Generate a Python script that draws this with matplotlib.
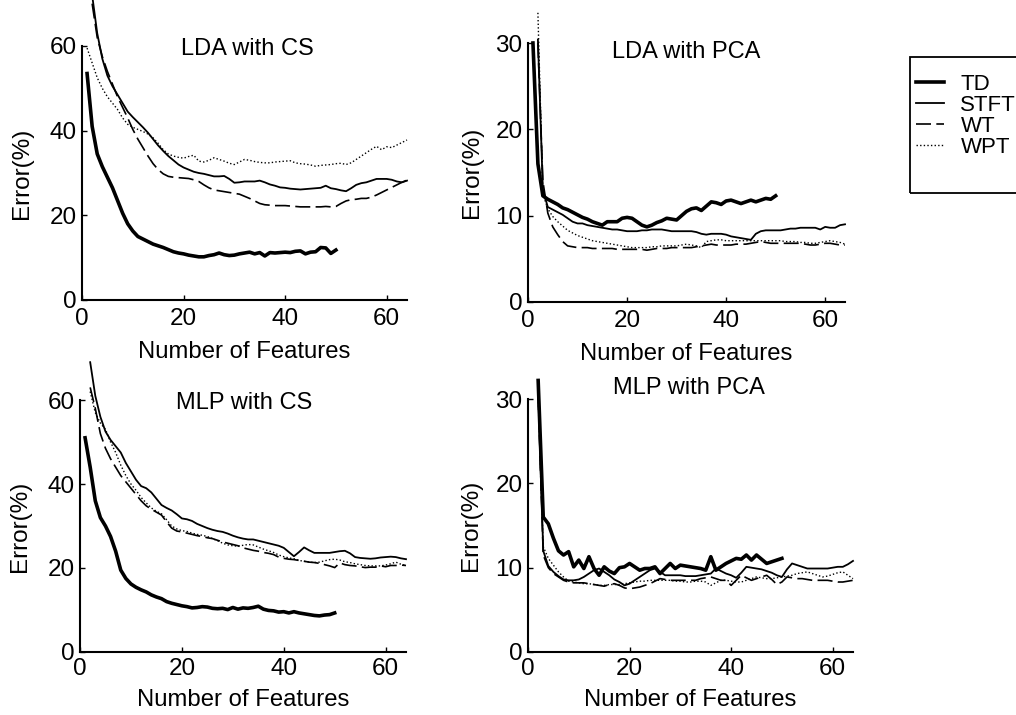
import numpy as np
import matplotlib
matplotlib.use("Agg")
import matplotlib.pyplot as plt
from matplotlib.patches import Rectangle

nan = np.nan

# ---------------- data (Error %, feature counts start at 1) ----------------
series_names = ["TD", "STFT", "WT", "WPT"]
x_ticks = [0, 20, 40, 60]

lda_cs_td = [53.5, 41, 34.5, 31.5, 29, 26.5, 23.5, 20.5, 18.0, 16.3, 15.0, 14.4, 13.8, 13.2, 12.8,
             12.4, 11.9, 11.4, 11.1, 10.9, 10.6, 10.4, 10.2, 10.2, 10.5, 10.7, 11.1, 10.7, 10.5, 10.6,
             10.9, 11.1, 11.3, 10.9, 11.2, 10.4, 11.2, 11.1, 11.2, 11.3, 11.2, 11.5, 11.6, 10.9, 11.3,
             11.4, 12.4, 12.3, 11.0, 11.8]
lda_cs_stft = [nan, 72, 63, 57, 53, 50.5, 48.5, 46.5, 44.5, 43.2, 42, 40.8, 39.5, 38, 36.5, 35.2,
               34, 33, 32, 31.3, 30.8, 30.3, 30, 29.8, 29.5, 29.2, 29.2, 29.3, 28.6, 27.7, 27.8, 28,
               28, 28, 28.2, 27.8, 27.3, 27, 26.6, 26.5, 26.3, 26.2, 26.1, 26.2, 26.3, 26.4, 26.5,
               27, 26.4, 26.2, 25.9, 25.7, 26.4, 27.2, 27.6, 27.8, 28.2, 28.6, 28.6, 28.6, 28.4, 28,
               27.8, 28.2]
lda_cs_wt = [nan, 70, 62, 57.5, 54, 51, 48, 45.5, 43, 40.3, 38, 36, 34, 32.2, 30.8, 29.8, 29.2, 29,
             28.9, 28.8, 28.7, 28.4, 28, 27.2, 26.5, 26, 25.8, 25.6, 25.4, 25.2, 25, 24.5, 24, 23.4,
             22.8, 22.5, 22.4, 22.3, 22.3, 22.3, 22.2, 22.1, 22, 22, 22, 22, 22, 22.1, 22, 22.1, 22.8,
             23.4, 23.7, 23.8, 24, 24, 24.3, 24.8, 25.4, 26, 26.6, 27.2, 27.8, 28.3]
lda_cs_wpt = [59.5, 56, 52.5, 50, 48, 46.5, 45, 43, 41.5, 40.8, 40.3, 39.8, 39.2, 38.3, 37, 35.5,
              34.5, 34, 33.7, 33.5, 33.9, 34.2, 32.8, 32.6, 33, 33.6, 33.2, 32.8, 32.3, 32, 32.6,
              33.2, 33, 32.7, 32.5, 32.4, 32.4, 32.6, 32.7, 32.8, 32.9, 32.4, 32.2, 32.1, 31.9, 31.6,
              31.8, 31.9, 32, 32.2, 32.3, 32, 32.4, 33.2, 34, 34.8, 35.6, 36.3, 35.5, 36.2, 36, 36.6,
              37.2, 37.8]

lda_pca_td = [30.0, 16.0, 12.3, 11.9, 11.6, 11.3, 10.9, 10.7, 10.4, 10.1, 9.8, 9.6, 9.3, 9.1, 8.9,
              9.3, 9.3, 9.3, 9.7, 9.8, 9.7, 9.3, 8.9, 8.7, 8.9, 9.2, 9.4, 9.7, 9.6, 9.5, 10.0, 10.5,
              10.8, 10.9, 10.6, 11.1, 11.6, 11.5, 11.3, 11.7, 11.8, 11.6, 11.4, 11.6, 11.8, 11.6,
              11.8, 12.0, 11.9, 12.3]
lda_pca_stft = [nan, 30.4, 13.0, 11.0, 10.7, 10.4, 10.1, 9.7, 9.3, 9.1, 9.1, 8.9, 8.8, 8.7, 8.6,
                8.5, 8.4, 8.4, 8.3, 8.2, 8.2, 8.2, 8.3, 8.3, 8.4, 8.4, 8.4, 8.3, 8.2, 8.2, 8.2, 8.2,
                8.2, 8.1, 7.9, 7.8, 7.9, 7.9, 7.9, 7.8, 7.6, 7.5, 7.4, 7.3, 7.2, 7.9, 8.2, 8.3, 8.3,
                8.3, 8.3, 8.4, 8.5, 8.5, 8.6, 8.6, 8.6, 8.6, 8.4, 8.7, 8.6, 8.6, 8.9, 9.0]
lda_pca_wt = [nan, 30.0, 14.0, 10.3, 8.7, 7.8, 7.0, 6.5, 6.4, 6.3, 6.3, 6.3, 6.2, 6.2, 6.2, 6.2,
              6.2, 6.1, 6.1, 6.1, 6.1, 6.1, 6.1, 6.0, 6.1, 6.2, 6.2, 6.2, 6.3, 6.3, 6.3, 6.3, 6.3,
              6.4, 6.5, 6.6, 6.7, 6.6, 6.6, 6.6, 6.6, 6.7, 6.7, 6.7, 6.8, 6.9, 7.0, 6.9, 6.8, 6.8,
              6.8, 6.8, 6.8, 6.8, 6.8, 6.7, 6.6, 6.6, 6.7, 6.8, 6.8, 6.7, 6.6, 6.6]
lda_pca_wpt = [nan, 33.5, 12.5, 10.8, 9.9, 9.3, 8.8, 8.3, 8.0, 7.7, 7.5, 7.3, 7.1, 7.0, 6.9, 6.8,
               6.7, 6.6, 6.5, 6.4, 6.3, 6.3, 6.3, 6.3, 6.4, 6.4, 6.5, 6.5, 6.5, 6.5, 6.6, 6.7, 6.6,
               6.5, 6.3, 7.0, 7.1, 7.2, 7.2, 7.1, 7.1, 7.1, 7.1, 7.1, 7.1, 7.1, 7.1, 7.1, 7.1, 7.1,
               7.1, 7.0, 7.0, 7.0, 6.9, 6.9, 6.8, 6.8, 6.9, 7.0, 7.1, 7.0, 6.9, 6.7]

mlp_cs_td = [51, 44, 36, 32, 30, 27.5, 24, 19.5, 17.5, 16.2, 15.4, 14.8, 14.3, 13.6, 13.1, 12.7, 12,
             11.6, 11.3, 11, 10.8, 10.5, 10.6, 10.8, 10.7, 10.4, 10.3, 10.4, 10.1, 10.6, 10.2, 10.5,
             10.4, 10.6, 10.9, 10.2, 9.9, 9.8, 9.5, 9.6, 9.3, 9.6, 9.3, 9.1, 8.9, 8.7, 8.6, 8.8, 8.9,
             9.3]
mlp_cs_stft = [nan, 69, 61, 56, 52.5, 50.5, 49, 47.5, 45, 43, 41, 39.5, 39, 38, 36.5, 35, 34.3,
               33.7, 32.8, 31.8, 31.6, 31.2, 30.5, 30, 29.5, 29.1, 28.8, 28.6, 28.2, 27.7, 27.3, 27,
               26.8, 26.8, 26.5, 26.2, 25.9, 25.6, 25.3, 24.8, 23.8, 22.8, 23.8, 24.9, 24.2, 23.6,
               23.6, 23.6, 23.6, 23.8, 24, 24.1, 23.5, 22.6, 22.4, 22.3, 22.2, 22.3, 22.5, 22.6,
               22.7, 22.6, 22.3, 22.1]
mlp_cs_wt = [nan, 63, 58, 52, 48.5, 46, 44, 42, 40.5, 39, 37.5, 36, 34.8, 34, 33.3, 32.6, 31, 29.5,
             28.8, 28.6, 28.3, 28, 27.7, 27.5, 27.2, 27, 26.6, 26.2, 25.9, 25.6, 25.3, 24.8, 24.5,
             24.2, 24, 23.7, 23.5, 23.2, 22.6, 22.3, 22.1, 22, 21.8, 21.6, 21.4, 21.3, 21.1, 20.8,
             20.5, 20.1, 21.2, 20.8, 20.6, 20.5, 20.3, 20.1, 20.2, 20.2, 20.5, 20.3, 20.6, 20.6,
             20.7, 20.6]
mlp_cs_wpt = [nan, 62, 57, 54.5, 53, 50, 47.5, 44.5, 42, 40, 38.5, 36.8, 35.5, 34.3, 33.5, 32.9,
              31.5, 30, 29.3, 28.9, 28.7, 28.3, 28, 27.8, 27.5, 27, 26.5, 25.9, 25.5, 25.3, 25.2,
              25.4, 25.6, 25.5, 25, 24.5, 24.1, 23.7, 23.1, 22.7, 22.4, 22.2, 21.8, 21.6, 21.4, 21.3,
              21.4, 21.7, 22, 22.1, 21.9, 21.5, 21.3, 21, 20.8, 20.6, 20.5, 20.5, 20.5, 20.7, 21,
              21.4, 20.9, 20.6]

mlp_pca_td = [nan, 32.2, 16.0, 15.2, 13.5, 12.0, 11.5, 11.9, 10.1, 10.9, 9.9, 11.3, 9.9, 9.1, 10.1,
              9.6, 9.3, 10.0, 10.1, 10.5, 10.1, 9.7, 9.9, 9.9, 10.1, 9.3, 9.9, 10.5, 9.9, 10.3, 10.2,
              10.1, 10.0, 9.9, 9.7, 11.3, 9.7, 10.1, 10.5, 10.8, 11.1, 11.0, 11.5, 10.9, 11.5, 11.0,
              10.5, 10.7, 10.9, 11.1]
mlp_pca_stft = [nan, 31.0, 12.0, 10.2, 9.5, 9.0, 8.6, 8.5, 8.5, 8.6, 8.9, 9.3, 9.7, 9.9, 9.5, 9.1,
                8.6, 8.3, 7.9, 8.1, 8.5, 8.9, 9.3, 9.7, 9.9, 9.5, 9.1, 9.1, 9.1, 9.1, 9.0, 9.0, 9.0,
                9.1, 9.2, 9.3, 9.9, 9.6, 9.3, 9.1, 8.8, 9.4, 10.1, 10.0, 9.9, 9.8, 9.6, 9.4, 9.1,
                8.9, 9.8, 10.5, 10.3, 10.1, 9.9, 9.9, 9.9, 9.9, 9.9, 10.0, 10.1, 10.1, 10.4, 10.8]
mlp_pca_wt = [nan, 30.5, 11.5, 10.0, 9.3, 8.9, 8.5, 8.3, 8.2, 8.2, 8.2, 8.1, 8.0, 7.9, 7.8, 8.0,
              8.1, 7.9, 7.6, 7.5, 7.6, 7.7, 7.9, 8.1, 8.4, 8.7, 8.6, 8.5, 8.5, 8.5, 8.5, 8.5, 8.5,
              8.7, 8.8, 8.9, 8.7, 8.5, 8.5, 7.9, 8.5, 9.1, 8.8, 8.5, 8.7, 8.9, 9.1, 8.6, 8.0, 8.3,
              8.9, 8.8, 8.7, 8.7, 8.6, 8.5, 8.5, 8.5, 8.5, 8.4, 8.3, 8.3, 8.4, 8.5]
mlp_pca_wpt = [nan, 30.5, 12.5, 11.1, 10.3, 9.5, 8.9, 8.4, 8.3, 8.2, 8.1, 8.1, 8.0, 7.9, 7.9, 8.0,
               8.0, 8.0, 8.1, 8.2, 8.3, 8.4, 8.4, 8.5, 8.5, 8.5, 8.5, 8.5, 8.4, 8.4, 8.3, 8.3, 8.4,
               8.4, 8.3, 7.9, 8.2, 8.5, 8.5, 8.4, 8.3, 8.3, 8.5, 8.7, 8.9, 8.8, 8.7, 8.7, 8.8, 8.9,
               9.0, 9.1, 9.3, 9.4, 9.5, 9.3, 9.1, 8.9, 9.0, 9.2, 9.4, 9.5, 9.1, 8.7]

panels = [
    ("LDA with CS", [lda_cs_td, lda_cs_stft, lda_cs_wt, lda_cs_wpt], [0, 20, 40, 60], 60),
    ("LDA with PCA", [lda_pca_td, lda_pca_stft, lda_pca_wt, lda_pca_wpt], [0, 10, 20, 30], 30),
    ("MLP with CS", [mlp_cs_td, mlp_cs_stft, mlp_cs_wt, mlp_cs_wpt], [0, 20, 40, 60], 60),
    ("MLP with PCA", [mlp_pca_td, mlp_pca_stft, mlp_pca_wt, mlp_pca_wpt], [0, 10, 20, 30], 30),
]

# ---------------- layout / style ----------------
W, H = 1016, 715
plt.rcParams['font.family'] = ['Liberation Sans', 'DejaVu Sans']
fig = plt.figure(figsize=(W / 100, H / 100), dpi=100)

# axes boxes in pixels: left, right, top, bottom
boxes = [(82, 407, 46, 300), (528, 845, 43, 302), (80, 406, 400, 652), (528, 853, 399, 652)]
title_pos = [(0.508, 0.99), (0.498, 0.965), (0.503, 0.99), (0.495, 1.043)]
ylabel_x = [-0.151, -0.142, -0.151, -0.142]
tick_pad = [6, 6, 4, 4]
xlabel_pad = [7.5, 7.5, 6.5, 6.5]

styles = [
    dict(lw=2.6, ls='-'),
    dict(lw=1.3, ls='-'),
    dict(lw=1.2, ls=(0, (9.0, 3.2))),
    dict(lw=1.0, ls=(0, (1.0, 1.6))),
]

handles = []
for i, ((title, data, yt, ymax), (l, r, t, b)) in enumerate(zip(panels, boxes)):
    ax = fig.add_axes([l / W, 1 - b / H, (r - l) / W, (b - t) / H])
    for name, vals, st in zip(series_names, data, styles):
        x = np.arange(1, len(vals) + 1)
        ln, = ax.plot(x, vals, color='black', clip_on=False, label=name,
                      solid_joinstyle='round', **st)
        if i == 0:
            handles.append(ln)
    ax.set_xlim(0, 64)
    ax.set_ylim(0, ymax)
    ax.set_xticks(x_ticks)
    ax.set_yticks(yt)
    for s in ('top', 'right'):
        ax.spines[s].set_visible(False)
    for s in ('left', 'bottom'):
        ax.spines[s].set_linewidth(1.5)
    ax.tick_params(direction='in', length=3.5, width=1.0, labelsize=17.5)
    ax.tick_params(axis='x', pad=tick_pad[i])
    ax.tick_params(axis='y', pad=4)
    ax.set_xlabel("Number of Features", fontsize=17.2, labelpad=xlabel_pad[i])
    ax.set_ylabel("Error(%)", fontsize=17.5)
    ax.yaxis.set_label_coords(ylabel_x[i], 0.5)
    ax.text(title_pos[i][0], title_pos[i][1], title, transform=ax.transAxes,
            ha='center', va='center', fontsize=17)

fig.legend(handles, series_names, loc='upper left',
           bbox_to_anchor=(916 / W, 1 - 74 / H), fontsize=16, labelspacing=0.0,
           handlelength=1.25, handletextpad=0.75, borderpad=0.0, borderaxespad=0.0,
           frameon=False)
fig.patches.append(Rectangle((910 / W, 1 - 193 / H), 125 / W, 136 / H,
                             transform=fig.transFigure, fill=False, edgecolor='black',
                             linewidth=1.3))

fig.savefig("out.png", dpi=100)
